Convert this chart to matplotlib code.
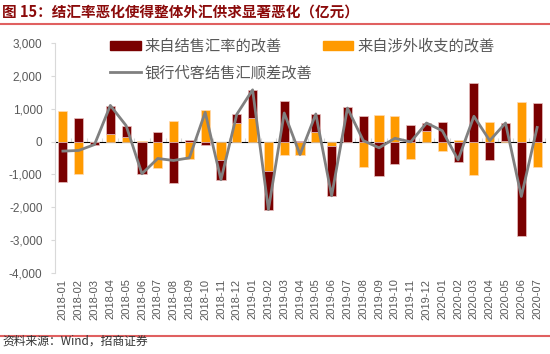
import numpy as np
import matplotlib
matplotlib.use('Agg')
import matplotlib.pyplot as plt
from matplotlib.lines import Line2D
import matplotlib.ticker as mtick

plt.rcParams['font.family'] = ['Liberation Sans', 'Noto Sans CJK SC', 'DejaVu Sans']

# data (亿元)
months = ['2018-01', '2018-02', '2018-03', '2018-04', '2018-05', '2018-06', '2018-07',
          '2018-08', '2018-09', '2018-10', '2018-11', '2018-12',
          '2019-01', '2019-02', '2019-03', '2019-04', '2019-05', '2019-06', '2019-07',
          '2019-08', '2019-09', '2019-10', '2019-11', '2019-12',
          '2020-01', '2020-02', '2020-03', '2020-04', '2020-05', '2020-06', '2020-07']
rate_impr = [-1240, 710, -70, 840, 355, -990, 290, -1260, 60, -110, -605, 275,
             855, -1160, 1240, 30, 540, -1520, 1040, 770, -1040, -690, 505, 255,
             585, -615, 1780, -575, 535, -2880, 1170]
flow_impr = [930, -990, -20, 240, 130, 10, -810, 640, -540, 960, -555, 555,
             720, -910, -400, -420, 300, -130, -20, -760, 820, 770, -545, 310,
             -290, 60, -1020, 585, 30, 1210, -760]
net_impr = [-290, -270, -90, 1100, 485, -980, -515, -575, -495, 890, -1160, 830,
            1575, -2070, 870, -395, 840, -1650, 1020, 30, -190, 100, -10, 565,
            330, -555, 770, 30, 565, -1670, 430]

RED = '#7a0000'
ORANGE = '#ff9a00'
GRAY = '#808080'
TXT = '#595959'

x = np.arange(len(months))
r = np.array(rate_impr)
f = np.array(flow_impr)

fig = plt.figure(figsize=(5.5, 3.54), dpi=100)
ax = fig.add_axes([0.1, 0.2288, 0.891, 0.6497])

# orange sits next to zero, dark red stacked beyond it (same sign)
w = 0.58
ax.bar(x, f, w, color=ORANGE, edgecolor='#ffd9b0', linewidth=0.5, zorder=2)
base = np.where(np.sign(r) == np.sign(f), f, 0)
ax.bar(x, r, w, bottom=base, color=RED, edgecolor='#e8c0c0', linewidth=0.5, zorder=2)
ax.plot(x, net_impr, color=GRAY, lw=2, zorder=3)

ax.set_ylim(-4000, 3000)
ax.set_xlim(-0.5, len(months) - 0.5)
ax.set_yticks(np.arange(-4000, 3001, 1000))
ax.yaxis.set_major_formatter(mtick.FuncFormatter(lambda v, p: f'{int(v):,}'))
ax.tick_params(axis='y', labelsize=8.5, colors=TXT, length=3, color='#d9d9d9', pad=6)
ax.set_xticks(x)
ax.set_xticklabels(months, rotation=90, fontsize=8, color=TXT)
ax.tick_params(axis='x', length=0, pad=4)
for s in ['top', 'right', 'bottom']:
    ax.spines[s].set_visible(False)
ax.spines['left'].set_color('#d9d9d9')

# category axis line at zero with ticks between months
sec = ax.secondary_xaxis(4 / 7)
sec.set_xticks(np.arange(-0.5, len(months), 1))
sec.set_xticklabels([])
sec.tick_params(length=3, color='#d9d9d9', direction='out')
sec.spines['bottom'].set_color('#d9d9d9')

h_red = plt.Rectangle((0, 0), 1, 1, color=RED)
h_or = plt.Rectangle((0, 0), 1, 1, color=ORANGE)
h_line = Line2D([], [], color=GRAY, lw=2)
leg = fig.legend([h_red, h_line, h_or],
                 ['来自结售汇率的改善', '银行代客结售汇顺差改善', '来自涉外收支的改善'],
                 ncol=2, loc='upper left', bbox_to_anchor=(0.2, 0.893), frameon=False,
                 handlelength=2.0, handleheight=0.55, handletextpad=0.25,
                 columnspacing=0.7, labelspacing=0.6, borderpad=0, borderaxespad=0,
                 prop={'family': ['Noto Sans CJK SC'], 'size': 11})
for t in leg.get_texts():
    t.set_color(TXT)

fig.text(0.004, 0.968, '图 15：结汇率恶化使得整体外汇供求显著恶化（亿元）', fontsize=10.5,
         fontweight='bold', color='#8b0a0a', va='center', family=['Noto Sans CJK SC'])
fig.add_artist(Line2D([0, 1], [0.932, 0.932], color='#e06060', lw=1.5))
fig.add_artist(Line2D([0, 1], [0.051, 0.051], color='#e06060', lw=1.5))
fig.text(0.004, 0.035, '资料来源：Wind，招商证券', fontsize=8.5, color='#333333', va='center',
         family=['Noto Sans CJK SC'])

fig.savefig('out.png', dpi=100)
